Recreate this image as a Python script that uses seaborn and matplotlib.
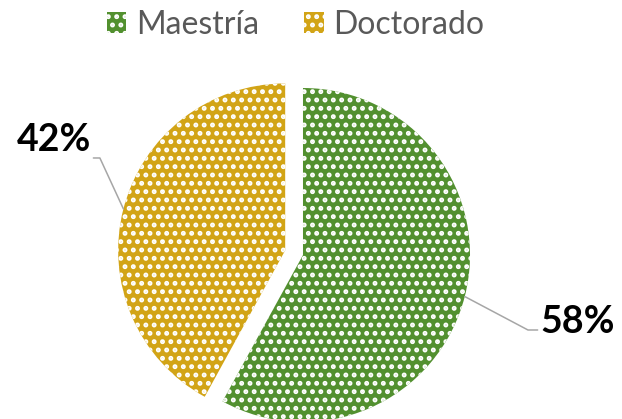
import numpy as np
import matplotlib.pyplot as plt
import seaborn as sns

# data
categories = ['Maestría', 'Doctorado']
values = [58, 42]
colors = ['#52902F', '#D2A416']
explode = [0, 0.11]

sns.set_theme(style='white')
plt.rcParams['font.family'] = ['Lato', 'DejaVu Sans']
plt.rcParams['hatch.linewidth'] = 2.3

fig = plt.figure(figsize=(6.22, 4.19), dpi=100)
ax = fig.add_axes([0, 0, 1, 1])

wedges, _ = ax.pie(values, colors=colors, startangle=90, counterclock=False,
                   explode=explode,
                   wedgeprops=dict(edgecolor='white', linewidth=0, hatch='..'))
ax.set_xlim(-1.814, 1.910)
ax.set_ylim(-0.982, 1.527)
ax.set_aspect('auto')
ax.axis('off')

# label layout: text anchor, elbow of leader line
label_pos = [(1.42, -0.40), (-1.27, 0.69)]
elbow_pos = [(1.347, -0.449), (-1.216, 0.581)]
total = sum(values)
for w, v, (tx, ty), (ex, ey) in zip(wedges, values, label_pos, elbow_pos):
    th = np.deg2rad((w.theta1 + w.theta2) / 2)
    cx, cy = w.center
    px, py = cx + w.r * np.cos(th), cy + w.r * np.sin(th)
    side = 1 if tx > 0 else -1
    ax.plot([px, ex, tx - side * 0.015], [py, ey, ey], color='#A6A6A6', lw=1.1)
    ax.text(tx, ty, f"{round(v / total * 100)}%", ha='left' if side > 0 else 'right',
            va='center', fontsize=27, fontweight='bold', color='black')

fig.legend(wedges, categories, loc='upper center', bbox_to_anchor=(0.475, 1.045),
           ncol=2, frameon=False, fontsize=23, handlelength=0.62, handleheight=0.62,
           handletextpad=0.3, columnspacing=1.4, labelcolor='#595959')

plt.savefig('out.png', dpi=100)
